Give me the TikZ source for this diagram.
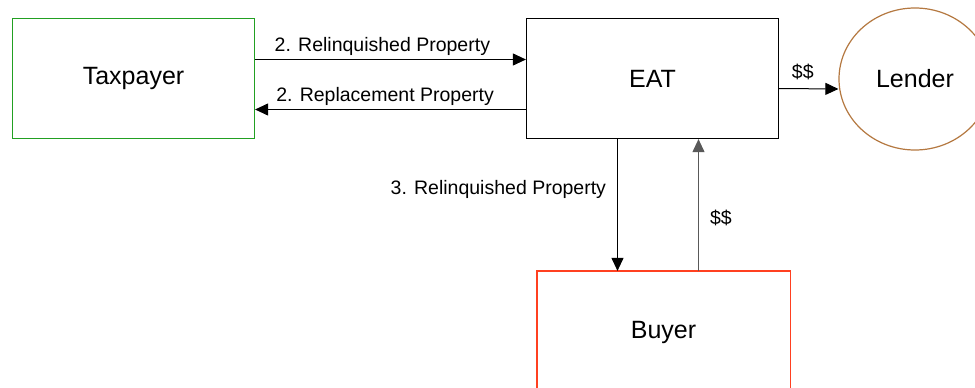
\documentclass[tikz,border=0pt]{standalone}
\usepackage{fontspec}
\setmainfont{Liberation Sans}
\usetikzlibrary{arrows.meta,shapes.geometric}
\definecolor{taxgreen}{HTML}{22A022}
\definecolor{lenderbrown}{HTML}{B47840}
\definecolor{buyerorange}{RGB}{255,64,32}

\begin{document}
\begin{tikzpicture}[x=1pt,y=-1pt,
    party/.style={draw, line width=1.2pt, rectangle, inner sep=0pt, font=\fontsize{25}{30}\selectfont},
    flow/.style={line width=1pt, -{Triangle[length=13pt,width=12pt]}},
    tag/.style={font=\fontsize{19.5}{23}\selectfont, inner sep=3pt}]
\useasboundingbox (0,0) rectangle (975,388);

\node [party, draw=taxgreen, minimum width=242pt, minimum height=120pt] (tax) at (133.5,78.5) {Taxpayer};
\node [party, draw=black, minimum width=252pt, minimum height=120pt] (eat) at (652.5,78.5) {EAT};
\node [party, draw=lenderbrown, ellipse, minimum width=152pt, minimum height=142pt] (lender) at (915,79) {Lender};
\node [party, draw=none, minimum width=252pt, minimum height=121pt] (buyer) at (663.5,332) {Buyer};
\draw [buyerorange, line width=1.2pt] (buyer.south west) -- (buyer.north west) -- (buyer.north east) -- (buyer.south east);

\draw [flow] ([yshift=19pt]tax.east) -- node[tag, above, pos=0.47] {2. Relinquished Property} ([yshift=19pt]eat.west);
\draw [flow] ([yshift=-31pt]eat.west) -- node[tag, above, pos=0.52] {2. Replacement Property} ([yshift=-31pt]tax.east);
\draw [flow] ([yshift=-10pt]eat.east) -- node[tag, above=5pt, pos=0.4] {\$\$} ([yshift=-10pt]lender.west);
\draw [flow] ([xshift=-35pt]eat.south) -- node[tag, left=8pt, pos=0.38] {3. Relinquished Property} ([xshift=-35pt]eat.south |- buyer.north);
\draw [flow, draw=black!65] ([xshift=46pt]eat.south |- buyer.north) -- node[tag, right=8pt, pos=0.4] {\$\$} ([xshift=46pt]eat.south);
\end{tikzpicture}
\end{document}
